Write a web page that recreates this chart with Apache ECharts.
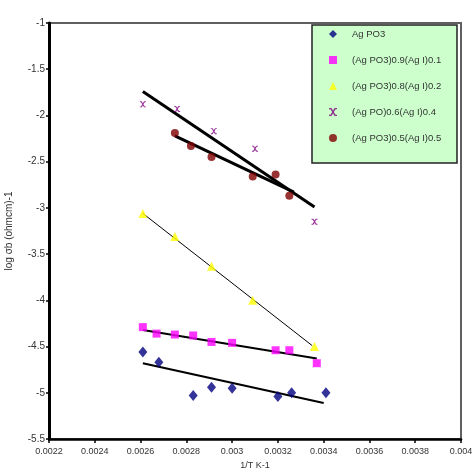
<!DOCTYPE html>
<html>
<head>
<meta charset="utf-8">
<script src="https://cdn.jsdelivr.net/npm/echarts@6/dist/echarts.min.js"></script>
<style>
  html, body { margin: 0; padding: 0; background: #fff; }
  #chart { width: 474px; height: 472px; }
</style>
</head>
<body>
<div id="chart"></div>
<script>
// measured points, [1/T, log sigma]
const agpo3 = [[0.00261, -4.56], [0.00268, -4.67], [0.00283, -5.03], [0.00291, -4.94], [0.00300, -4.95], [0.00320, -5.04], [0.00326, -5.00], [0.00341, -5.00]]
const agi01 = [[0.00261, -4.29], [0.00267, -4.36], [0.00275, -4.37], [0.00283, -4.38], [0.00291, -4.45], [0.00300, -4.46], [0.00319, -4.54], [0.00325, -4.54], [0.00337, -4.68]]
const agi02 = [[0.00261, -3.06], [0.00275, -3.31], [0.00291, -3.63], [0.00309, -4.00], [0.00336, -4.50]]
const agi04 = [[0.00261, -1.88], [0.00276, -1.93], [0.00292, -2.17], [0.00310, -2.36], [0.00336, -3.15]]
const agi05 = [[0.00275, -2.19], [0.00282, -2.33], [0.00291, -2.45], [0.00309, -2.66], [0.00319, -2.64], [0.00325, -2.87]]

// trend lines (end points)
const fitAgpo3 = [[0.00261, -4.68], [0.00340, -5.11]]
const fitAgi01 = [[0.00261, -4.32], [0.00337, -4.63]]
const fitAgi02 = [[0.00261, -3.06], [0.00335, -4.49]]
const fitAgi04 = [[0.00261, -1.74], [0.00336, -2.99]]
const fitAgi05 = [[0.00275, -2.22], [0.00327, -2.83]]

const names = ['Ag PO3', '(Ag PO3)0.9(Ag I)0.1', '(Ag PO3)0.8(Ag I)0.2', '(Ag PO)0.6(Ag I)0.4', '(Ag PO3)0.5(Ag I)0.5']

const xSym = 'path://M0 0H3L5 3L7 0H10V1.5H8.2L6 5L8.2 8.5H10V10H7L5 7L3 10H0V8.5H1.8L4 5L1.8 1.5H0Z'

const chart = echarts.init(document.getElementById('chart'))

const fitLine = (data, width) => ({
  type: 'line',
  data: data,
  symbol: 'none',
  silent: true,
  z: 1,
  lineStyle: { color: '#000', width: width }
})

const option = {
  animation: false,
  textStyle: { fontFamily: 'Liberation Sans, Arial, sans-serif' },
  grid: {
    left: 49,
    right: 13,
    top: 23,
    bottom: 33,
    outerBoundsMode: 'none',
    containLabel: false,
    show: true,
    borderColor: '#606060',
    borderWidth: 2
  },
  graphic: [{
    type: 'rect',
    shape: { x: 312, y: 25, width: 145, height: 138 },
    style: { fill: '#ccffcc', stroke: '#222', lineWidth: 1.5 },
    z: 5
  }],
  legend: {
    data: names,
    orient: 'vertical',
    left: 329,
    top: 29,
    padding: 0,
    itemWidth: 8,
    itemHeight: 8,
    itemGap: 16,
    z: 10,
    textStyle: { fontSize: 9.5, color: '#333', lineHeight: 10, padding: [0, 0, 0, 10] }
  },
  xAxis: {
    type: 'value',
    min: 0.0022,
    max: 0.004,
    interval: 0.0002,
    name: '1/T K-1',
    nameLocation: 'middle',
    nameGap: 22,
    nameTextStyle: { fontSize: 9, color: '#333' },
    axisLine: { show: true, lineStyle: { color: '#000', width: 2.5 } },
    axisTick: { show: true, length: 4, lineStyle: { color: '#000', width: 1.5 } },
    axisLabel: { fontSize: 9, color: '#333', margin: 8 },
    splitLine: { show: false }
  },
  yAxis: {
    type: 'value',
    min: -5.5,
    max: -1,
    interval: 0.5,
    name: 'log σb (ohmcm)-1',
    nameLocation: 'middle',
    nameGap: 35,
    nameTextStyle: { fontSize: 10, color: '#333' },
    axisLine: { show: true, lineStyle: { color: '#000', width: 3 } },
    axisTick: { show: true, length: 3, lineStyle: { color: '#000', width: 1.5 } },
    axisLabel: { fontSize: 10, color: '#333', margin: 4 },
    splitLine: { show: false }
  },
  series: [
    fitLine(fitAgpo3, 2),
    fitLine(fitAgi01, 2),
    fitLine(fitAgi02, 1),
    fitLine(fitAgi04, 3),
    fitLine(fitAgi05, 3),
    {
      name: names[0],
      type: 'scatter',
      data: agpo3,
      symbol: 'diamond',
      symbolSize: [9, 11],
      z: 3,
      itemStyle: { color: '#000080' }
    },
    {
      name: names[1],
      type: 'scatter',
      data: agi01,
      symbol: 'rect',
      symbolSize: 8,
      z: 3,
      itemStyle: { color: '#ff00ff' }
    },
    {
      name: names[2],
      type: 'scatter',
      data: agi02,
      symbol: 'triangle',
      symbolSize: 9,
      z: 3,
      itemStyle: { color: '#ffff00' }
    },
    {
      name: names[3],
      type: 'scatter',
      data: agi04,
      symbol: xSym,
      symbolSize: 6,
      z: 3,
      itemStyle: { color: '#800080' }
    },
    {
      name: names[4],
      type: 'scatter',
      data: agi05,
      symbol: 'circle',
      symbolSize: 8,
      z: 3,
      itemStyle: { color: '#800000' }
    }
  ]
}

chart.setOption(option)
</script>
</body>
</html>
